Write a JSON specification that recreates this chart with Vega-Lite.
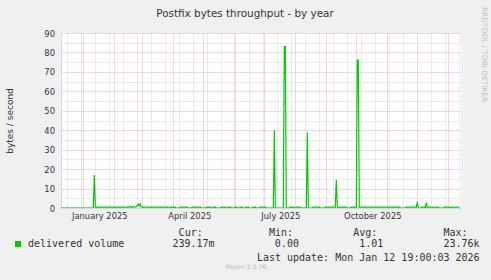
{
  "$schema": "https://vega.github.io/schema/vega-lite/v6.json",
  "width": 400,
  "height": 175,
  "autosize": {"type": "none"},
  "padding": {"left": 61, "top": 33, "right": 30, "bottom": 72},
  "background": "#F0F0F0",
  "config": {"view": {"fill": "#FFFFFF", "stroke": null}, "font": "DejaVu Sans"},
  "title": {"text": "Postfix bytes throughput - by year", "font": "DejaVu Sans", "fontSize": 10.4, "fontWeight": "normal", "color": "#333333", "anchor": "middle", "frame": "group", "dx": -16, "baseline": "alphabetic", "offset": -20.7},
  "data": {"values": [
    {"date": "2024-12-09", "v": 0},
    {"date": "2025-01-11", "v": 0},
    {"date": "2025-01-12", "v": 17},
    {"date": "2025-01-13", "v": 0.4},
    {"date": "2025-02-16", "v": 0.4},
    {"date": "2025-02-17", "v": 0.9},
    {"date": "2025-02-18", "v": 0.4},
    {"date": "2025-02-19", "v": 0.4},
    {"date": "2025-02-20", "v": 0.9},
    {"date": "2025-02-21", "v": 0.5},
    {"date": "2025-02-22", "v": 0.4},
    {"date": "2025-02-23", "v": 0.8},
    {"date": "2025-02-24", "v": 1.3},
    {"date": "2025-02-25", "v": 2.0},
    {"date": "2025-02-26", "v": 1.1},
    {"date": "2025-02-27", "v": 2.1},
    {"date": "2025-02-28", "v": 0.6},
    {"date": "2025-03-01", "v": 0.4},
    {"date": "2025-03-26", "v": 0.4},
    {"date": "2025-03-27", "v": 0},
    {"date": "2025-03-28", "v": 0},
    {"date": "2025-03-29", "v": 0.4},
    {"date": "2025-04-03", "v": 0.4},
    {"date": "2025-04-04", "v": 0},
    {"date": "2025-04-07", "v": 0},
    {"date": "2025-04-08", "v": 0.4},
    {"date": "2025-04-15", "v": 0.4},
    {"date": "2025-04-16", "v": 0},
    {"date": "2025-04-19", "v": 0},
    {"date": "2025-04-20", "v": 0.4},
    {"date": "2025-04-28", "v": 0.4},
    {"date": "2025-04-29", "v": 0},
    {"date": "2025-05-03", "v": 0},
    {"date": "2025-05-04", "v": 0.4},
    {"date": "2025-05-08", "v": 0.4},
    {"date": "2025-05-09", "v": 0},
    {"date": "2025-05-10", "v": 0},
    {"date": "2025-05-11", "v": 0.4},
    {"date": "2025-05-13", "v": 0.4},
    {"date": "2025-05-14", "v": 0},
    {"date": "2025-05-18", "v": 0},
    {"date": "2025-05-19", "v": 0.4},
    {"date": "2025-05-23", "v": 0.4},
    {"date": "2025-05-24", "v": 0},
    {"date": "2025-05-25", "v": 0},
    {"date": "2025-05-26", "v": 0.4},
    {"date": "2025-05-28", "v": 0.4},
    {"date": "2025-05-29", "v": 0},
    {"date": "2025-06-01", "v": 0},
    {"date": "2025-06-02", "v": 0.4},
    {"date": "2025-06-03", "v": 0.4},
    {"date": "2025-06-04", "v": 0},
    {"date": "2025-06-06", "v": 0},
    {"date": "2025-06-07", "v": 0.4},
    {"date": "2025-06-09", "v": 0.4},
    {"date": "2025-06-10", "v": 0},
    {"date": "2025-06-12", "v": 0},
    {"date": "2025-06-13", "v": 0.4},
    {"date": "2025-06-15", "v": 0.4},
    {"date": "2025-06-16", "v": 0},
    {"date": "2025-06-19", "v": 0},
    {"date": "2025-06-20", "v": 0.4},
    {"date": "2025-06-22", "v": 0.4},
    {"date": "2025-06-23", "v": 0},
    {"date": "2025-06-26", "v": 0},
    {"date": "2025-06-27", "v": 0.4},
    {"date": "2025-07-02", "v": 0.4},
    {"date": "2025-07-03", "v": 0},
    {"date": "2025-07-10", "v": 0},
    {"date": "2025-07-11", "v": 40},
    {"date": "2025-07-12", "v": 0},
    {"date": "2025-07-20", "v": 0},
    {"date": "2025-07-21", "v": 83},
    {"date": "2025-07-22", "v": 83},
    {"date": "2025-07-23", "v": 0},
    {"date": "2025-07-26", "v": 0},
    {"date": "2025-07-27", "v": 0.4},
    {"date": "2025-07-30", "v": 0.4},
    {"date": "2025-07-31", "v": 0},
    {"date": "2025-08-01", "v": 0},
    {"date": "2025-08-02", "v": 0.4},
    {"date": "2025-08-06", "v": 0.4},
    {"date": "2025-08-07", "v": 0},
    {"date": "2025-08-12", "v": 0},
    {"date": "2025-08-13", "v": 39},
    {"date": "2025-08-14", "v": 0},
    {"date": "2025-08-18", "v": 0},
    {"date": "2025-08-19", "v": 0.4},
    {"date": "2025-08-25", "v": 0.4},
    {"date": "2025-08-26", "v": 0},
    {"date": "2025-08-30", "v": 0},
    {"date": "2025-08-31", "v": 0.4},
    {"date": "2025-09-10", "v": 0.4},
    {"date": "2025-09-11", "v": 14.4},
    {"date": "2025-09-12", "v": 0},
    {"date": "2025-09-13", "v": 0},
    {"date": "2025-09-14", "v": 0.4},
    {"date": "2025-09-21", "v": 0.4},
    {"date": "2025-09-22", "v": 0},
    {"date": "2025-09-25", "v": 0},
    {"date": "2025-09-26", "v": 0.4},
    {"date": "2025-10-01", "v": 0.4},
    {"date": "2025-10-02", "v": 76},
    {"date": "2025-10-03", "v": 76},
    {"date": "2025-10-04", "v": 0},
    {"date": "2025-10-05", "v": 0},
    {"date": "2025-10-06", "v": 0.4},
    {"date": "2025-11-13", "v": 0.4},
    {"date": "2025-11-14", "v": 0},
    {"date": "2025-11-19", "v": 0},
    {"date": "2025-11-20", "v": 0.4},
    {"date": "2025-11-30", "v": 0.4},
    {"date": "2025-12-01", "v": 3.1},
    {"date": "2025-12-02", "v": 0},
    {"date": "2025-12-04", "v": 0},
    {"date": "2025-12-05", "v": 0.4},
    {"date": "2025-12-08", "v": 0.4},
    {"date": "2025-12-09", "v": 0},
    {"date": "2025-12-10", "v": 2.6},
    {"date": "2025-12-11", "v": 0},
    {"date": "2025-12-12", "v": 0},
    {"date": "2025-12-13", "v": 0.4},
    {"date": "2025-12-22", "v": 0.4},
    {"date": "2025-12-23", "v": 0},
    {"date": "2025-12-27", "v": 0},
    {"date": "2025-12-28", "v": 0.4},
    {"date": "2026-01-02", "v": 0.4},
    {"date": "2026-01-03", "v": 0},
    {"date": "2026-01-04", "v": 0.4},
    {"date": "2026-01-12", "v": 0.4}
  ]},
  "layer": [
    {
      "mark": {"type": "rule", "color": "#CFD6F8", "strokeWidth": 1},
      "encoding": {
        "y": {"aggregate": "min", "field": "v", "type": "quantitative",
          "scale": {"domain": [0, 90], "nice": false},
          "axis": {"orient": "right", "title": "RRDTOOL / TOBI OETIKER", "labels": false, "ticks": false, "domain": false, "grid": false,
            "titleAngle": 90, "titleX": 22.7, "titleY": 21, "titleAlign": "center", "titleBaseline": "middle",
            "titleFont": "DejaVu Sans", "titleFontSize": 7.4, "titleFontWeight": "normal", "titleColor": "#C2C2C2"}}
      }
    },
    {
      "mark": {"type": "line", "strokeWidth": 1.2, "clip": true},
      "encoding": {
        "x": {"field": "date", "type": "temporal",
          "scale": {"type": "utc", "domain": [
            {"year": 2024, "month": 12, "date": 9, "hours": 16, "minutes": 48, "utc": true},
            {"year": 2026, "month": 1, "date": 13, "hours": 16, "minutes": 48, "utc": true}]},
          "axis": {
            "values": [
              {"year": 2025, "month": 1, "date": 1, "utc": true},
              {"year": 2025, "month": 2, "date": 1, "utc": true},
              {"year": 2025, "month": 3, "date": 1, "utc": true},
              {"year": 2025, "month": 4, "date": 1, "utc": true},
              {"year": 2025, "month": 5, "date": 1, "utc": true},
              {"year": 2025, "month": 6, "date": 1, "utc": true},
              {"year": 2025, "month": 7, "date": 1, "utc": true},
              {"year": 2025, "month": 8, "date": 1, "utc": true},
              {"year": 2025, "month": 9, "date": 1, "utc": true},
              {"year": 2025, "month": 10, "date": 1, "utc": true},
              {"year": 2025, "month": 11, "date": 1, "utc": true},
              {"year": 2025, "month": 12, "date": 1, "utc": true},
              {"year": 2026, "month": 1, "date": 1, "utc": true},
              {"year": 2024, "month": 12, "date": 16, "utc": true},
              {"year": 2024, "month": 12, "date": 30, "utc": true},
              {"year": 2025, "month": 1, "date": 13, "utc": true},
              {"year": 2025, "month": 1, "date": 27, "utc": true},
              {"year": 2025, "month": 2, "date": 10, "utc": true},
              {"year": 2025, "month": 2, "date": 24, "utc": true},
              {"year": 2025, "month": 3, "date": 10, "utc": true},
              {"year": 2025, "month": 3, "date": 24, "utc": true},
              {"year": 2025, "month": 4, "date": 7, "utc": true},
              {"year": 2025, "month": 4, "date": 21, "utc": true},
              {"year": 2025, "month": 5, "date": 5, "utc": true},
              {"year": 2025, "month": 5, "date": 19, "utc": true},
              {"year": 2025, "month": 6, "date": 2, "utc": true},
              {"year": 2025, "month": 6, "date": 16, "utc": true},
              {"year": 2025, "month": 6, "date": 30, "utc": true},
              {"year": 2025, "month": 7, "date": 14, "utc": true},
              {"year": 2025, "month": 7, "date": 28, "utc": true},
              {"year": 2025, "month": 8, "date": 11, "utc": true},
              {"year": 2025, "month": 8, "date": 25, "utc": true},
              {"year": 2025, "month": 9, "date": 8, "utc": true},
              {"year": 2025, "month": 9, "date": 22, "utc": true},
              {"year": 2025, "month": 10, "date": 6, "utc": true},
              {"year": 2025, "month": 10, "date": 20, "utc": true},
              {"year": 2025, "month": 11, "date": 3, "utc": true},
              {"year": 2025, "month": 11, "date": 17, "utc": true},
              {"year": 2025, "month": 12, "date": 15, "utc": true},
              {"year": 2025, "month": 12, "date": 29, "utc": true},
              {"year": 2026, "month": 1, "date": 12, "utc": true}
            ],
            "grid": true,
            "gridColor": {"condition": {"test": "utcdate(datum.value) === 1", "value": "#F5ABAB"}, "value": "#D6D6D6"},
            "gridDash": [1, 1], "gridWidth": 1, "gridOpacity": 1,
            "domain": false, "ticks": false, "tickSize": 0,
            "labelExpr": "utcyear(datum.value) === 2025 && utcdate(datum.value) === 1 && utcmonth(datum.value) % 3 === 0 ? utcFormat(datum.value, '%B %Y') : ''",
            "labelOffset": 16, "labelPadding": 10.5, "labelBaseline": "alphabetic", "labelAlign": "center",
            "labelFont": "DejaVu Sans", "labelFontSize": 8.4, "labelColor": "#333333",
            "labelFlush": false, "labelOverlap": false, "labelBound": false,
            "title": [
              "\u200b\u00a0\u00a0\u00a0\u00a0\u00a0\u00a0\u00a0\u00a0\u00a0\u00a0\u00a0\u00a0\u00a0\u00a0\u00a0\u00a0\u00a0\u00a0\u00a0\u00a0\u00a0\u00a0\u00a0\u00a0\u00a0Cur:\u00a0\u00a0\u00a0\u00a0\u00a0\u00a0\u00a0\u00a0\u00a0\u00a0\u00a0Min:\u00a0\u00a0\u00a0\u00a0\u00a0\u00a0\u00a0\u00a0\u00a0\u00a0Avg:\u00a0\u00a0\u00a0\u00a0\u00a0\u00a0\u00a0\u00a0\u00a0\u00a0\u00a0Max:",
              "\u200b\u00a0",
              "\u200b\u00a0\u00a0\u00a0\u00a0\u00a0\u00a0\u00a0\u00a0\u00a0\u00a0\u00a0\u00a0\u00a0\u00a0\u00a0\u00a0\u00a0\u00a0\u00a0\u00a0\u00a0\u00a0\u00a0\u00a0\u00a0\u00a0\u00a0\u00a0\u00a0\u00a0\u00a0\u00a0\u00a0\u00a0\u00a0\u00a0\u00a0\u00a0Last update: Mon Jan 12 19:00:03 2026"
            ],
            "titleFont": "DejaVu Sans Mono", "titleFontSize": 10, "titleFontWeight": "normal", "titleColor": "#333333",
            "titleAlign": "left", "titleBaseline": "alphabetic", "titleX": -33.4, "titleY": 27.7, "titleLineHeight": 12.5, "titleLimit": 1000
          }},
        "y": {"field": "v", "type": "quantitative",
          "scale": {"domain": [0, 90], "nice": false},
          "axis": {"orient": "left",
            "values": [0, 5, 10, 15, 20, 25, 30, 35, 40, 45, 50, 55, 60, 65, 70, 75, 80, 85, 90],
            "labelExpr": "datum.value % 10 === 0 ? datum.label : ''",
            "grid": true,
            "gridColor": {"condition": {"test": "datum.value % 10 === 0", "value": "#F5ABAB"}, "value": "#D6D6D6"},
            "gridDash": [1, 1], "gridWidth": 1, "gridOpacity": 1,
            "domain": true, "domainColor": "#CFD6F8", "domainWidth": 1,
            "ticks": false, "tickSize": 0,
            "labelPadding": 6.5, "labelFont": "DejaVu Sans", "labelFontSize": 8.4, "labelColor": "#333333",
            "labelOverlap": false, "labelFlush": false, "labelBound": false,
            "title": "bytes / second", "titleFont": "DejaVu Sans", "titleFontSize": 9, "titleFontWeight": "normal", "titleColor": "#333333",
            "titleX": -51.5, "titleY": 87.5, "titleAngle": -90, "titleAlign": "center", "titleBaseline": "middle"}},
        "color": {"datum": "delivered volume", "type": "nominal",
          "scale": {"range": ["#00CC00"]},
          "legend": {"orient": "none", "legendX": -48, "legendY": 206, "padding": 0,
            "title": "Munin 2.0.76", "titleOrient": "bottom", "titleAnchor": "middle",
            "titleFont": "DejaVu Sans", "titleFontSize": 6.3, "titleFontWeight": "normal", "titleColor": "#BBBBBB", "titlePadding": 15,
            "symbolType": "square", "symbolSize": 36, "symbolFillColor": "#00CC00", "symbolStrokeColor": "#00CC00", "symbolStrokeWidth": 0, "symbolOpacity": 1,
            "labelFont": "DejaVu Sans Mono", "labelFontSize": 10, "labelColor": "#333333", "labelLimit": 1000, "labelOffset": 5,
            "labelExpr": "datum.label + '\u00a0\u00a0\u00a0\u00a0\u00a0\u00a0\u00a0\u00a0239.17m\u00a0\u00a0\u00a0\u00a0\u00a0\u00a0\u00a0\u00a0\u00a0\u00a00.00\u00a0\u00a0\u00a0\u00a0\u00a0\u00a0\u00a0\u00a0\u00a0\u00a01.01\u00a0\u00a0\u00a0\u00a0\u00a0\u00a0\u00a0\u00a0\u00a0\u00a023.76k'"}}
      }
    }
  ],
  "resolve": {"axis": {"y": "independent"}}
}
